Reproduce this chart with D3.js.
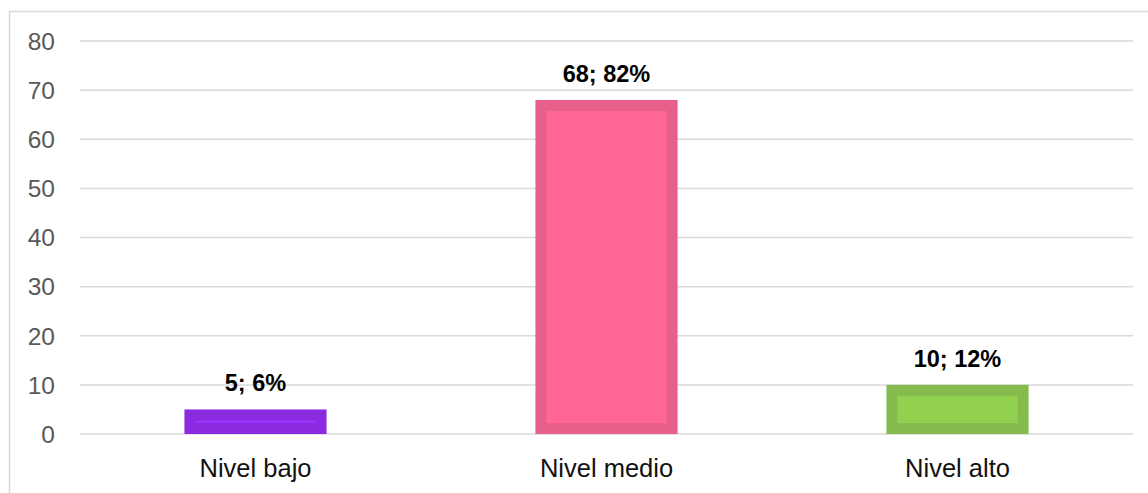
<!DOCTYPE html>
<html><head><meta charset="utf-8">
<script src="https://cdn.jsdelivr.net/npm/d3@7"></script>
<style>html,body{margin:0;padding:0;background:#fff;}svg{display:block;}</style>
</head><body>
<svg id="c" width="1148" height="493"></svg>
<script>
const categories = ["Nivel bajo", "Nivel medio", "Nivel alto"];
const values = [5, 68, 10];
const percents = ["6%", "82%", "12%"];
const yTicks = [0, 10, 20, 30, 40, 50, 60, 70, 80];
const fillColors = ["#9933ff", "#ff6695", "#92d050"];
const strokeColors = ["#8a2be2", "#e8608a", "#84bb4c"];

(function () {
const svg = d3.select("#c");
const mLeft = 80, mRight = 1133, mTop = 41, mBottom = 434;

// chart border
svg.append("rect").attr("x", 9.5).attr("y", 11.5).attr("width", 1160).attr("height", 500)
  .attr("fill", "none").attr("stroke", "#d9d9d9").attr("stroke-width", 1.5);

const x = d3.scaleBand().domain(categories).range([mLeft, mRight]).padding(0);
const y = d3.scaleLinear().domain([0, 80]).range([mBottom, mTop]);

// gridlines
svg.append("g").selectAll("line").data(yTicks).join("line")
  .attr("x1", mLeft).attr("x2", mRight)
  .attr("y1", d => y(d)).attr("y2", d => y(d))
  .attr("stroke", "#d9d9d9").attr("stroke-width", 1.5);

// y tick labels
svg.append("g").selectAll("text").data(yTicks).join("text")
  .attr("x", 55).attr("y", d => y(d)).attr("dy", "0.36em")
  .attr("text-anchor", "end")
  .attr("font-family", "Liberation Sans, Arial, sans-serif")
  .attr("font-size", 24.5).attr("fill", "#595959")
  .text(d => d);

const barW = x.bandwidth() * 0.405;
const sw = 11;
const data = categories.map((c, i) => ({c, v: values[i], p: percents[i], i}));

svg.append("g").selectAll("rect").data(data).join("rect")
  .attr("x", d => x(d.c) + x.bandwidth() / 2 - barW / 2 + sw / 2)
  .attr("y", d => y(d.v) + sw / 2)
  .attr("width", barW - sw)
  .attr("height", d => Math.max(0, y(0) - y(d.v) - sw))
  .attr("fill", d => fillColors[d.i])
  .attr("stroke", d => strokeColors[d.i])
  .attr("stroke-width", sw);

// data labels
svg.append("g").selectAll("text").data(data).join("text")
  .attr("x", d => x(d.c) + x.bandwidth() / 2)
  .attr("y", d => y(d.v) - 18)
  .attr("text-anchor", "middle")
  .attr("font-family", "Liberation Sans, Arial, sans-serif")
  .attr("font-weight", "bold")
  .attr("font-size", 23.5).attr("fill", "#000")
  .text(d => d.v + "; " + d.p);

// category labels
svg.append("g").selectAll("text").data(categories).join("text")
  .attr("x", d => x(d) + x.bandwidth() / 2)
  .attr("y", 477)
  .attr("text-anchor", "middle")
  .attr("font-family", "Liberation Sans, Arial, sans-serif")
  .attr("font-size", 25.5).attr("fill", "#111")
  .text(d => d);
})();
</script>
</body></html>
